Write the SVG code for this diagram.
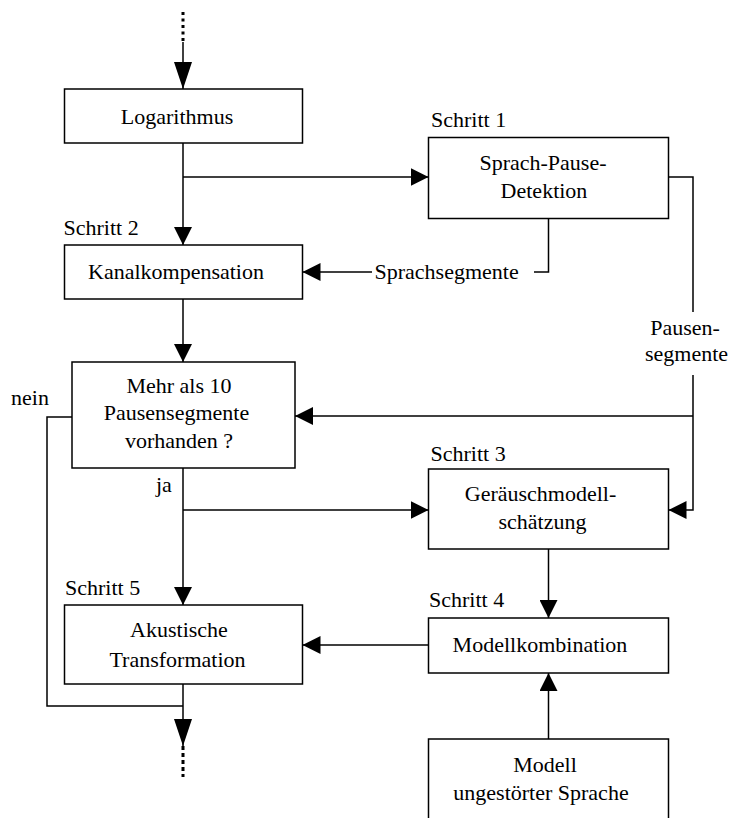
<svg xmlns="http://www.w3.org/2000/svg" width="733" height="818" viewBox="0 0 733 818">
<style>
.box{fill:#fff;stroke:#000;stroke-width:1.5}
.ln{fill:none;stroke:#000;stroke-width:1.5}
.dash{fill:none;stroke:#000;stroke-width:3}
.t{font-family:"Liberation Serif","Times New Roman",serif;font-size:22px;fill:#000}
.c{text-anchor:middle}
</style>
<defs>
<marker id="ah" markerUnits="userSpaceOnUse" markerWidth="18" markerHeight="18" refX="18" refY="9" orient="auto">
<path d="M0,0 L18,9 L0,18 Z" fill="#000"/>
</marker>
<marker id="ahl" markerUnits="userSpaceOnUse" markerWidth="27" markerHeight="18" refX="27" refY="9" orient="auto">
<path d="M0,0 L27,9 L0,18 Z" fill="#000"/>
</marker>
</defs>
<rect width="733" height="818" fill="#fff"/>
<g id="connectors">
<line class="dash" x1="183" y1="12" x2="183" y2="42" stroke-dasharray="3 3.5"/>
<line class="ln" x1="183" y1="42" x2="183" y2="89" marker-end="url(#ahl)"/>
<line class="ln" x1="183" y1="143" x2="183" y2="245" marker-end="url(#ah)"/>
<line class="ln" x1="183" y1="177" x2="428.5" y2="177" marker-end="url(#ah)"/>
<polyline class="ln" points="668.5,177 693,177 693,312"/>
<polyline class="ln" points="693,375 693,510 668.5,510" marker-end="url(#ah)"/>
<line class="ln" x1="693" y1="416" x2="295" y2="416" marker-end="url(#ah)"/>
<polyline class="ln" points="548.5,218 548.5,272 534,272"/>
<line class="ln" x1="372" y1="272" x2="302.5" y2="272" marker-end="url(#ah)"/>
<line class="ln" x1="183" y1="299" x2="183" y2="362" marker-end="url(#ah)"/>
<line class="ln" x1="183" y1="468" x2="183" y2="605" marker-end="url(#ah)"/>
<line class="ln" x1="183" y1="510" x2="428.5" y2="510" marker-end="url(#ah)"/>
<line class="ln" x1="548.5" y1="549" x2="548.5" y2="618" marker-end="url(#ah)"/>
<line class="ln" x1="428.5" y1="645" x2="302.5" y2="645" marker-end="url(#ah)"/>
<line class="ln" x1="548.5" y1="739" x2="548.5" y2="673" marker-end="url(#ah)"/>
<polyline class="ln" points="72,417 47,417 47,706 183,706"/>
<line class="ln" x1="183" y1="684" x2="183" y2="746" marker-end="url(#ahl)"/>
<line class="dash" x1="183" y1="746" x2="183" y2="777" stroke-dasharray="4 3"/>
<text class="t" x="374.5" y="279">Sprachsegmente</text>
<text class="t c" x="685" y="335">Pausen-</text>
<text class="t c" x="686.5" y="361">segmente</text>
<text class="t" x="11" y="405">nein</text>
<text class="t" x="156" y="492">ja</text>
</g>
<g id="logarithmus">
<rect class="box" x="64.5" y="89" width="238" height="54"/>
<text class="t c" x="177" y="124">Logarithmus</text>
</g>
<g id="sprachpause">
<text class="t" x="431" y="127">Schritt 1</text>
<rect class="box" x="428.5" y="137.5" width="240" height="81"/>
<text class="t c" x="543" y="170">Sprach-Pause-</text>
<text class="t c" x="544" y="198">Detektion</text>
</g>
<g id="kanal">
<text class="t" x="63.5" y="235">Schritt 2</text>
<rect class="box" x="64.5" y="245" width="238" height="54"/>
<text class="t c" x="176" y="279">Kanalkompensation</text>
</g>
<g id="entscheidung">
<rect class="box" x="72" y="362" width="223" height="106"/>
<text class="t c" x="179" y="393">Mehr als 10</text>
<text class="t c" x="176.5" y="420">Pausensegmente</text>
<text class="t c" x="179" y="448">vorhanden ?</text>
</g>
<g id="geraeusch">
<text class="t" x="430.5" y="461">Schritt 3</text>
<rect class="box" x="428.5" y="469" width="240" height="80"/>
<text class="t c" x="540.5" y="501">Geräuschmodell-</text>
<text class="t c" x="542.5" y="529">schätzung</text>
</g>
<g id="akustisch">
<text class="t" x="65" y="595">Schritt 5</text>
<rect class="box" x="64.5" y="605" width="238" height="79"/>
<text class="t c" x="179" y="637">Akustische</text>
<text class="t c" x="177.5" y="667">Transformation</text>
</g>
<g id="modellkombination">
<text class="t" x="429" y="607">Schritt 4</text>
<rect class="box" x="428.5" y="618" width="240" height="55"/>
<text class="t c" x="540" y="652">Modellkombination</text>
</g>
<g id="modellsprache">
<rect class="box" x="428.5" y="739" width="240" height="100"/>
<text class="t c" x="545" y="772">Modell</text>
<text class="t c" x="541" y="800">ungestörter Sprache</text>
</g>
</svg>
